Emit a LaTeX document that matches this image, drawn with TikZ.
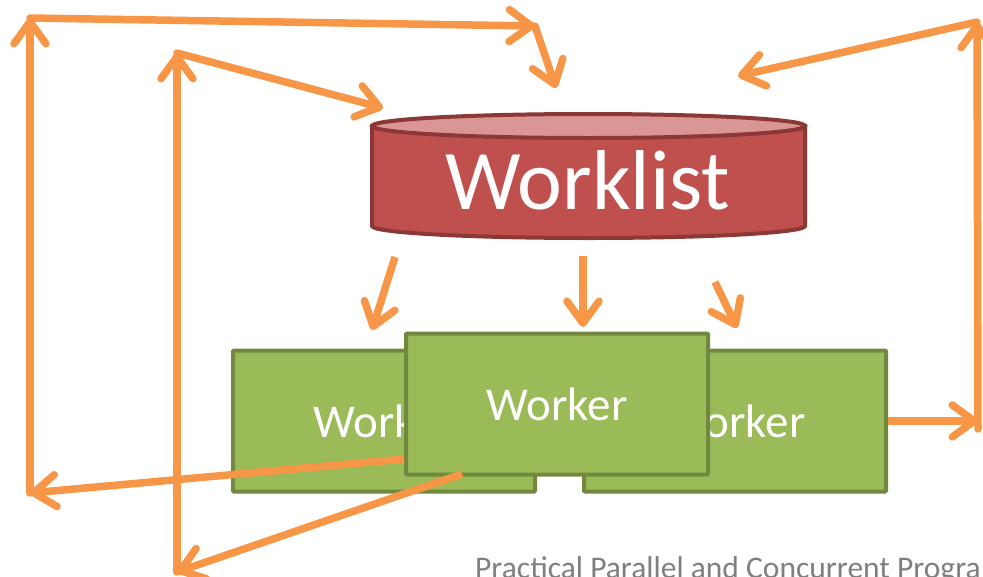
\documentclass[tikz,border=0pt]{standalone}
\usepackage{fontspec}
\setmainfont{Carlito}
\usetikzlibrary{arrows.meta,positioning}
\definecolor{flow}{HTML}{F79646}
\definecolor{listfill}{HTML}{C0504D}
\definecolor{listtop}{HTML}{D99694}
\definecolor{listline}{HTML}{8C3836}
\definecolor{workfill}{HTML}{9BBB59}
\definecolor{workline}{HTML}{71893F}
\definecolor{footgray}{HTML}{7F7F7F}
\tikzset{
  worker/.style={draw=workline,fill=workfill,line width=4pt,rounded corners=1pt,
    minimum width=302pt,minimum height=141pt,inner sep=0pt,text=white,
    font=\fontsize{47}{50}\selectfont},
  flowline/.style={draw=flow,line width=7.5pt,line cap=round,
    -{Straight Barb[length=22pt,width=32pt,round]}}
}

\begin{document}
\begin{tikzpicture}[x=1pt,y=-1pt]
    \clip (0,0) rectangle (983,576);
    % worklist cylinder
    \filldraw[fill=listfill,draw=listline,line width=4pt]
      (372,126) -- (372,226) arc[start angle=180,end angle=0,x radius=216.5,y radius=12] -- (805,126) -- cycle;
    \filldraw[fill=listtop,draw=listline,line width=4pt] (588.5,126) ellipse[x radius=216.5,y radius=12];
    \node[text=white,font=\fontsize{85}{90}\selectfont] (worklist) at (588,180) {Worklist};
    % workers
    \node[worker] (workA) at (384,421) {Worker};
    \node[worker] (workC) at (735,421) {Worker};
    \node[worker] (workB) at (557,404) {Worker};
    % corners
    \coordinate (outA) at ([yshift=-55pt]workB.west);
    \coordinate (outB) at (462,474);
    \coordinate (cnrA1) at (30,493);
    \coordinate (cnrA2) at (30,18);
    \coordinate (cnrA3) at (535,26);
    \coordinate (inA) at (556,88);
    \coordinate (cnrB1) at (177,572);
    \coordinate (cnrB2) at (177,53);
    \coordinate (inB) at (383,108);
    \coordinate (cnrC1) at (978,421);
    \coordinate (cnrC2) at (977,22);
    \coordinate (inC) at (738,76);
    \coordinate (downA) at (395,257);
    \coordinate (downAend) at (372,330);
    \coordinate (downB) at (583,256);
    \coordinate (downBend) at (583,327);
    \coordinate (downC) at (715,282);
    \coordinate (downCend) at (737,328);
    % flows
    \draw[flowline,line cap=butt] (outA) -- (cnrA1);
    \draw[flowline] (cnrA1) -- (cnrA2);
    \draw[flowline] (cnrA2) -- (cnrA3);
    \draw[flowline] (cnrA3) -- (inA);
    \draw[flowline,line cap=butt] (outB) -- (cnrB1);
    \draw[flowline] (cnrB1) -- (cnrB2);
    \draw[flowline] (cnrB2) -- (inB);
    \draw[flowline,line cap=butt] (workC.east) -- (cnrC1);
    \draw[flowline] ([yshift=-8pt]cnrC1) -- (cnrC2);
    \draw[flowline] (cnrC2) -- (inC);
    \draw[flowline,line cap=butt] (downA) -- (downAend);
    \draw[flowline,line cap=butt] (downB) -- (downBend);
    \draw[flowline,line cap=butt] (downC) -- (downCend);
    % footer
    \node[anchor=base west,inner sep=0pt,text=footgray,font=\fontsize{31.5}{33}\selectfont] (foot) at (475,578)
      {Practical Parallel and Concurrent Programming};
\end{tikzpicture}
\end{document}
